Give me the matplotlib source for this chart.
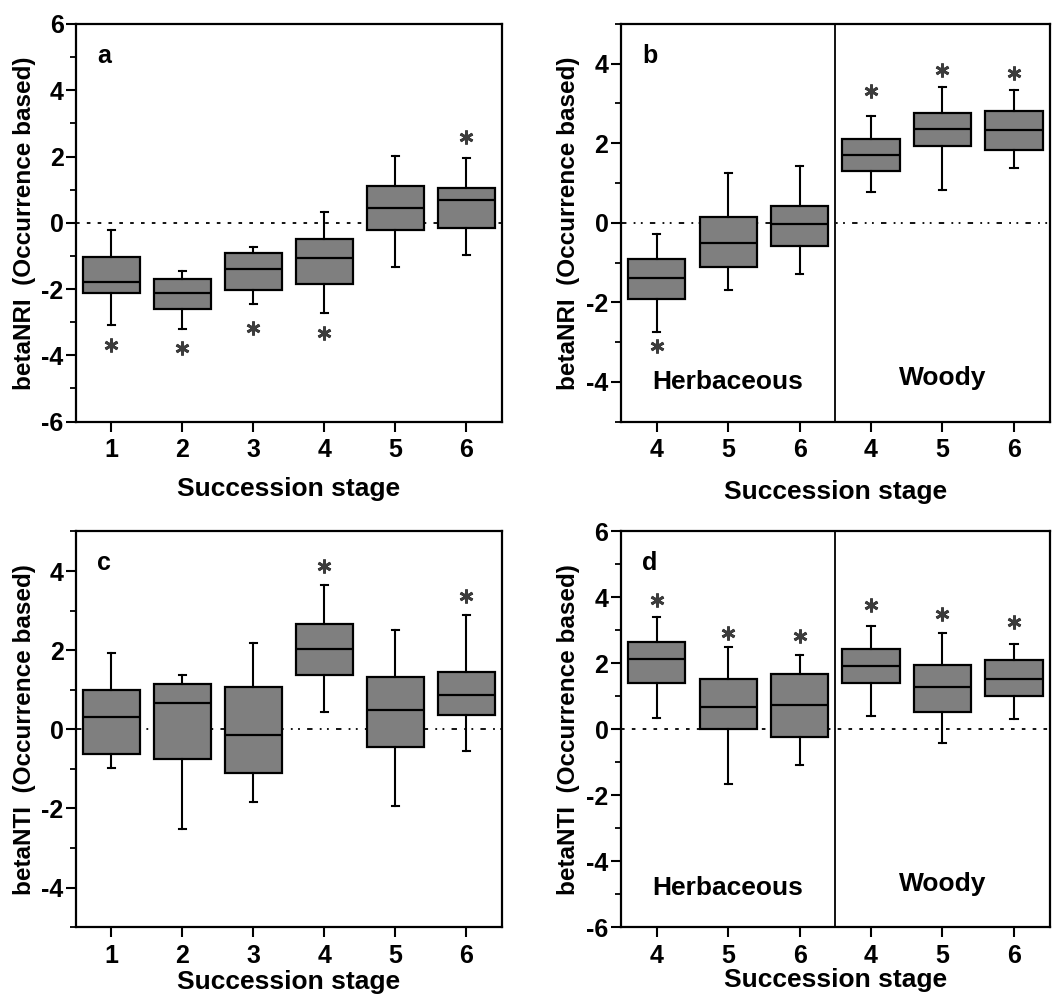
import numpy as np
import matplotlib
matplotlib.use("Agg")
import matplotlib.pyplot as plt

plt.rcParams["font.family"] = ["Liberation Sans", "DejaVu Sans"]
plt.rcParams["font.weight"] = "bold"
plt.rcParams["axes.unicode_minus"] = False

# ---------------- data ----------------
# each list: whisker low, Q1, median, Q3, whisker high

# panel a: betaNRI by stage 1-6
a_labels = ["1", "2", "3", "4", "5", "6"]
a_whislo = [-3.09, -3.21, -2.45, -2.71, -1.33, -0.97]
a_q1 = [-2.13, -2.61, -2.03, -1.86, -0.22, -0.15]
a_med = [-1.78, -2.13, -1.38, -1.06, 0.46, 0.68]
a_q3 = [-1.03, -1.71, -0.92, -0.49, 1.11, 1.04]
a_whishi = [-0.22, -1.45, -0.74, 0.32, 2.02, 1.96]
a_star = [-3.69, -3.79, -3.19, -3.34, None, 2.59]

# panel b: betaNRI, herbaceous 4-6 and woody 4-6
b_labels = ["4", "5", "6", "4", "5", "6"]
b_whislo = [-2.75, -1.70, -1.30, 0.78, 0.82, 1.39]
b_q1 = [-1.91, -1.12, -0.59, 1.30, 1.93, 1.84]
b_med = [-1.39, -0.51, -0.03, 1.70, 2.37, 2.33]
b_q3 = [-0.90, 0.15, 0.42, 2.10, 2.76, 2.80]
b_whishi = [-0.28, 1.24, 1.44, 2.68, 3.42, 3.34]
b_star = [-3.11, None, None, 3.32, 3.84, 3.77]

# panel c: betaNTI by stage 1-6
c_labels = ["1", "2", "3", "4", "5", "6"]
c_whislo = [-0.97, -2.53, -1.85, 0.43, -1.94, -0.54]
c_q1 = [-0.63, -0.75, -1.11, 1.36, -0.44, 0.35]
c_med = [0.31, 0.67, -0.14, 2.02, 0.48, 0.87]
c_q3 = [1.00, 1.14, 1.08, 2.67, 1.31, 1.44]
c_whishi = [1.93, 1.36, 2.19, 3.64, 2.50, 2.90]
c_star = [None, None, None, 4.13, None, 3.38]

# panel d: betaNTI, herbaceous 4-6 and woody 4-6
d_labels = ["4", "5", "6", "4", "5", "6"]
d_whislo = [0.35, -1.66, -1.08, 0.41, -0.43, 0.31]
d_q1 = [1.39, 0.00, -0.22, 1.39, 0.53, 1.01]
d_med = [2.12, 0.69, 0.74, 1.92, 1.27, 1.53]
d_q3 = [2.64, 1.53, 1.69, 2.44, 1.96, 2.11]
d_whishi = [3.41, 2.51, 2.24, 3.14, 2.92, 2.60]
d_star = [3.93, 2.92, 2.82, 3.78, 3.50, 3.25]

BOX_COLOR = "#7f7f7f"
STAR_COLOR = "#3c3c3c"


def draw_panel(ax, letter, labels, whislo, q1, med, q3, whishi, stars,
               ylim, ylabel, zero_style, split=False, xlab_y=-0.14):
    pos = np.arange(1, len(labels) + 1)
    stats = []
    for i in range(len(labels)):
        stats.append({"whislo": whislo[i], "q1": q1[i], "med": med[i],
                      "q3": q3[i], "whishi": whishi[i], "fliers": []})

    ax.axhline(0, color="black", lw=1.3, ls=zero_style, zorder=1)

    ax.bxp(stats, positions=pos, widths=0.8, patch_artist=True,
           showfliers=False, capwidths=0.1, manage_ticks=False,
           boxprops=dict(facecolor=BOX_COLOR, edgecolor="black", linewidth=1.6),
           medianprops=dict(color="black", linewidth=1.6),
           whiskerprops=dict(color="black", linewidth=1.5),
           capprops=dict(color="black", linewidth=1.5), zorder=2)

    for x, s in zip(pos, stars):
        if s is not None:
            ax.plot(x, s, marker=(6, 2, 0), ms=10, mew=2.0,
                    color=STAR_COLOR, ls="none", zorder=3)

    if split:
        ax.axvline(3.5, color="black", lw=1.3)
        ax.text(2, ylim[0] + 0.1 * (ylim[1] - ylim[0]), "Herbaceous",
                ha="center", va="center", fontsize=19, fontweight="bold")
        ax.text(5, ylim[0] + 0.1 * (ylim[1] - ylim[0]) + 0.1, "Woody",
                ha="center", va="center", fontsize=19, fontweight="bold")

    ax.set_xlim(0.5, 6.5)
    ax.set_ylim(*ylim)
    ax.set_xticks(pos)
    ax.set_xticklabels(labels)
    lo = int(np.ceil(ylim[0] / 2.0)) * 2
    ax.set_yticks(np.arange(lo, ylim[1] + 0.01, 2))
    ax.set_yticks(np.arange(ylim[0], ylim[1] + 0.01, 1), minor=True)

    ax.tick_params(axis="both", which="major", direction="out", length=7,
                   width=1.5, labelsize=18, top=False, right=False)
    ax.tick_params(axis="y", which="major", pad=2)
    ax.tick_params(axis="x", which="major", pad=5)
    ax.tick_params(axis="y", which="minor", direction="out", length=4,
                   width=1.3, right=False)
    for lab in ax.get_xticklabels() + ax.get_yticklabels():
        lab.set_fontweight("bold")
    for sp in ax.spines.values():
        sp.set_linewidth(1.6)

    ax.set_ylabel(ylabel, fontsize=17.5, fontweight="bold")
    ax.yaxis.set_label_coords(-0.095, 0.5)
    ax.set_xlabel("Succession stage", fontsize=19, fontweight="bold", va="top")
    ax.xaxis.set_label_coords(0.5, xlab_y)

    ax.text(0.05, 0.92, letter, transform=ax.transAxes, fontsize=18,
            fontweight="bold", ha="left", va="center")


fig = plt.figure(figsize=(10.56, 9.99), dpi=100)
ax_a = fig.add_axes([0.072, 0.578, 0.403, 0.398])
ax_b = fig.add_axes([0.588, 0.578, 0.406, 0.398])
ax_c = fig.add_axes([0.072, 0.072, 0.403, 0.396])
ax_d = fig.add_axes([0.588, 0.072, 0.406, 0.396])

draw_panel(ax_a, "a", a_labels, a_whislo, a_q1, a_med, a_q3, a_whishi, a_star,
           (-6, 6), "betaNRI  (Occurrence based)", (0, (2, 4)), xlab_y=-0.14)
draw_panel(ax_b, "b", b_labels, b_whislo, b_q1, b_med, b_q3, b_whishi, b_star,
           (-5, 5), "betaNRI  (Occurrence based)", (0, (3, 4, 1, 3, 1, 4)),
           split=True, xlab_y=-0.146)
draw_panel(ax_c, "c", c_labels, c_whislo, c_q1, c_med, c_q3, c_whishi, c_star,
           (-5, 5), "betaNTI  (Occurrence based)", (0, (3, 4, 1, 3, 1, 4)),
           xlab_y=-0.108)
draw_panel(ax_d, "d", d_labels, d_whislo, d_q1, d_med, d_q3, d_whishi, d_star,
           (-6, 6), "betaNTI  (Occurrence based)", (0, (2, 4)),
           split=True, xlab_y=-0.104)

fig.savefig("out.png", dpi=100)
plt.close(fig)
